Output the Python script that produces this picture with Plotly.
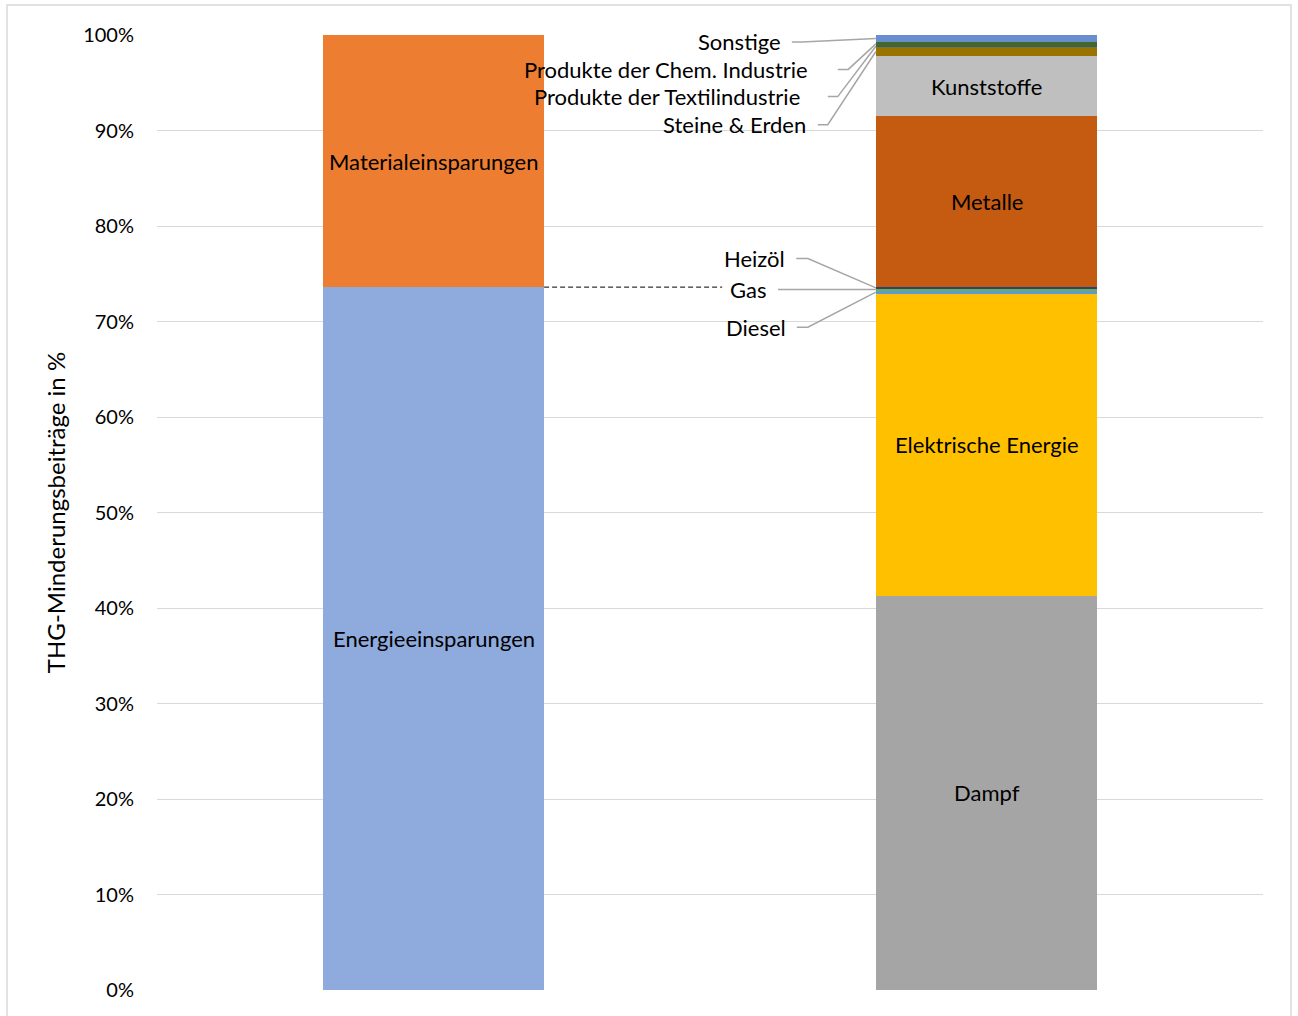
import plotly.graph_objects as go

# ---------------- data ----------------
left_series = ["Energieeinsparungen", "Materialeinsparungen"]
left_values = [73.6, 26.4]
left_colors = ["#8FAADC", "#ED7D31"]

right_series = ["Dampf", "Elektrische Energie", "Diesel", "Gas", "Heizöl", "Metalle",
                "Kunststoffe", "Steine & Erden", "Produkte der Textilindustrie",
                "Produkte der Chem. Industrie", "Sonstige"]
right_values = [41.3, 31.6, 0.35, 0.2, 0.15, 17.9, 6.3, 0.95, 0.15, 0.35, 0.75]
right_colors = ["#A5A5A5", "#FFC000", "#5B9BD5", "#70AD47", "#264478", "#C55A11",
                "#BFBFBF", "#997300", "#255E91", "#43682B", "#698ED0"]

inside_labels = {"Energieeinsparungen", "Materialeinsparungen", "Dampf",
                 "Elektrische Energie", "Metalle", "Kunststoffe"}

y_ticks = [0, 10, 20, 30, 40, 50, 60, 70, 80, 90, 100]
y_tick_labels = [f"{v}%" for v in y_ticks]
y_title = "THG-Minderungsbeiträge in %"

FONT = "Lato"
LABEL_SIZE = 22
BAR_W = 0.4

fig = go.Figure()
annotations = []


def add_stack(xpos, names, values, colors):
    base = 0.0
    mids = {}
    for n, v, c in zip(names, values, colors):
        fig.add_trace(go.Bar(x=[xpos], y=[v], name=n, marker=dict(color=c, line=dict(width=0)),
                             width=BAR_W, showlegend=False, hoverinfo="name+y"))
        mids[n] = (base, base + v, base + v / 2)
        if n in inside_labels:
            annotations.append(dict(x=xpos, y=base + v / 2, text=n, showarrow=False,
                                    xref="x", yref="y",
                                    font=dict(family=FONT, size=LABEL_SIZE, color="#000000")))
        base += v
    return mids


left_mids = add_stack(0, left_series, left_values, left_colors)
right_mids = add_stack(1, right_series, right_values, right_colors)

edge = 1 - BAR_W / 2
# leader label layout: (name, label y, text end x, line start x, elbow x)
leaders = [
    ("Sonstige", 99.27, 0.632, 0.648, 0.666),
    ("Produkte der Chem. Industrie", 96.4, 0.681, 0.731, 0.750),
    ("Produkte der Textilindustrie", 93.55, 0.666, 0.713, 0.731),
    ("Steine & Erden", 90.6, 0.677, 0.695, 0.713),
    ("Heizöl", 76.6, 0.639, 0.656, 0.677),
    ("Gas", 73.35, 0.605, 0.623, 0.640),
    ("Diesel", 69.4, 0.641, 0.657, 0.677),
]
for name, ly, tx, sx, ex in leaders:
    target = right_mids[name][2]
    fig.add_trace(go.Scatter(x=[sx, ex, edge], y=[ly, ly, target], mode="lines",
                             line=dict(color="#A6A6A6", width=1.5),
                             showlegend=False, hoverinfo="skip"))
    annotations.append(dict(x=tx, y=ly, text=name, showarrow=False, xref="x", yref="y",
                            xanchor="right", yanchor="middle",
                            font=dict(family=FONT, size=LABEL_SIZE, color="#000000")))

# dashed connector at top of energy savings
energy_top = left_values[0]
fig.add_trace(go.Scatter(x=[BAR_W / 2, 0.522], y=[energy_top, energy_top], mode="lines",
                         line=dict(color="#000000", width=1, dash="5px,3px"),
                         showlegend=False, hoverinfo="skip"))

fig.update_layout(
    barmode="stack",
    width=1298, height=1016,
    margin=dict(l=157, r=35, t=35, b=26),
    plot_bgcolor="white", paper_bgcolor="white",
    font=dict(family=FONT, color="#000000"),
    annotations=annotations,
    xaxis=dict(range=[-0.5, 1.5], showticklabels=False, showgrid=False,
               zeroline=False, showline=False, ticks=""),
    yaxis=dict(range=[0, 100], tickvals=y_ticks, ticktext=y_tick_labels,
               showgrid=True, gridcolor="#D9D9D9", gridwidth=1.3, zeroline=False,
               tickfont=dict(family=FONT, size=20, color="#000000"),
               ticklabelstandoff=22,
               title=dict(text=y_title, font=dict(family=FONT, size=24, color="#000000"),
                          standoff=10)),
    shapes=[dict(type="rect", xref="paper", yref="paper",
                 x0=-150 / 1106, x1=1 + 28 / 1106, y0=-40 / 955, y1=1 + 30 / 955,
                 line=dict(color="#D9D9D9", width=1.5), fillcolor="rgba(0,0,0,0)",
                 layer="below")],
)

fig.write_html("out.html")
